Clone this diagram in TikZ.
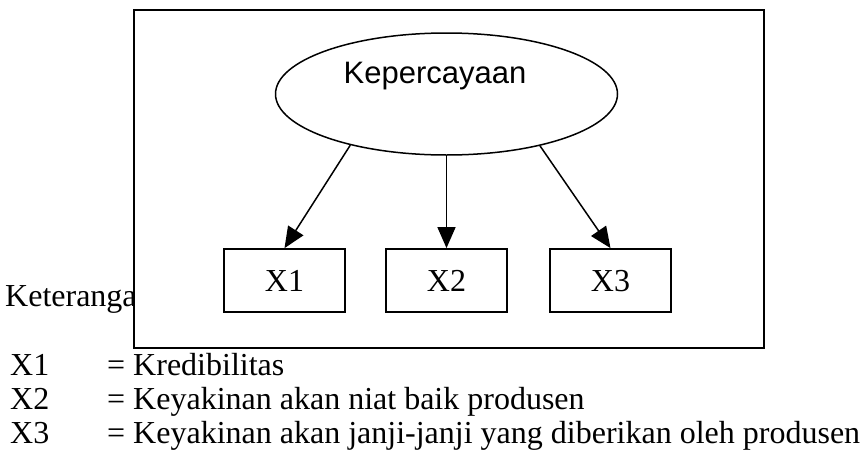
\documentclass[tikz,border=0pt]{standalone}
\usepackage{fontspec}
\setmainfont{Liberation Serif}
\newfontfamily\arialfont{Liberation Sans}
\usetikzlibrary{shapes.geometric,arrows.meta}
\tikzset{
  frame/.style={draw=black,line width=2pt,fill=white},
  latent/.style={draw=black,line width=1.5pt,ellipse,minimum width=342pt,minimum height=122pt,inner sep=0pt},
  indicator/.style={draw=black,line width=1.8pt,rectangle,minimum width=121pt,minimum height=63pt,inner sep=0pt,text height=21pt,text depth=0pt,font=\fontsize{32}{36}\selectfont},
  link/.style={line width=1.5pt,-{Triangle[length=21pt,width=18pt]}},
  legend/.style={inner sep=0pt,anchor=base west,font=\fontsize{32}{36}\selectfont}
}
\begin{document}
\begin{tikzpicture}[x=1pt,y=1pt]
\useasboundingbox (0,0) rectangle (867,-450);
% legend heading (partly hidden behind the frame)
\node[legend] (ket) at (5,-306) {Keterangan :};
% frame
\draw[frame] (134,-10) rectangle (764,-348);
% latent variable
\node[latent] (k) at (446.5,-94) {};
\node[inner sep=0pt,font=\arialfont\fontsize{31}{36}\selectfont] (ktext) at (435,-76) {Kepercayaan};
% indicators
\node[indicator] (x1) at (284.5,-280.5) {X1};
\node[indicator] (x2) at (446.5,-280.5) {X2};
\node[indicator] (x3) at (610.5,-280.5) {X3};
% arrows
\draw[link] (k.208) -- (x1.north);
\draw[link] (k.south) -- (x2.north);
\draw[link] (k.331) -- (x3.north);
% legend
\node[legend] (l1) at (10,-375) {X1};
\node[legend] (d1) at (107,-375) {= Kredibilitas};
\node[legend] (l2) at (10,-409) {X2};
\node[legend] (d2) at (107,-409) {= Keyakinan akan niat baik produsen};
\node[legend] (l3) at (10,-443) {X3};
\node[legend] (d3) at (107,-443) {= Keyakinan akan janji-janji yang diberikan oleh produsen};
\end{tikzpicture}
\end{document}
